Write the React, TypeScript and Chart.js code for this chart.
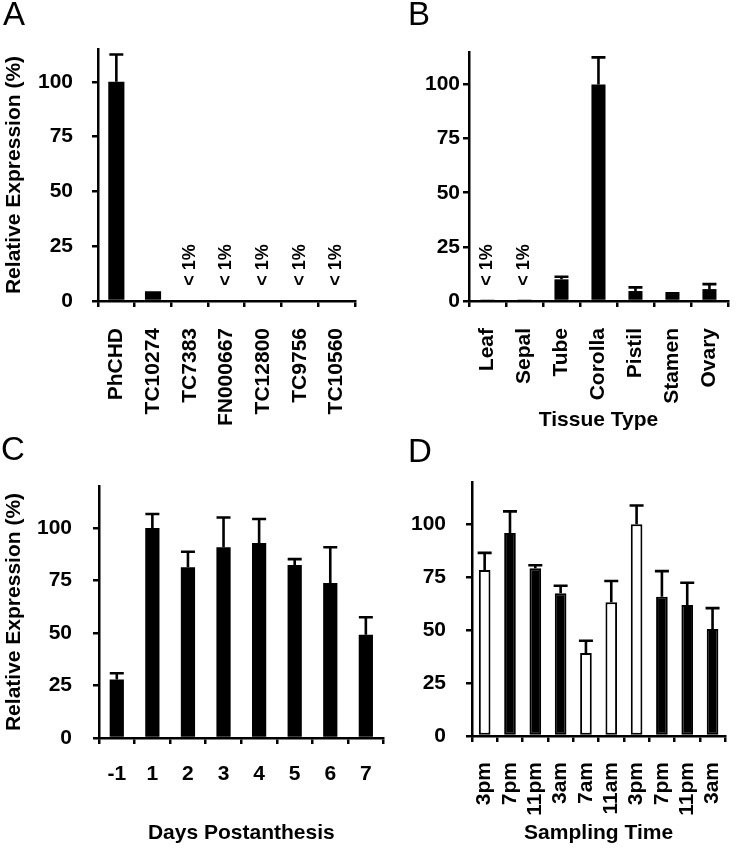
import React, { useEffect, useRef } from 'react';
import { Chart, registerables } from 'chart.js';

Chart.register(...registerables);

const FONT = '"Liberation Sans", Arial, Helvetica, sans-serif';

// ---------- Data ----------
const categoriesA = ['PhCHD', 'TC10274', 'TC7383', 'FN000667', 'TC12800', 'TC9756', 'TC10560'];
const valuesA = [100, 4.5, 0, 0, 0, 0.6, 0];
const errorsA = [12.5, 0, 0, 0, 0, 0, 0];
const notesA = ['', '', '< 1%', '< 1%', '< 1%', '< 1%', '< 1%'];

const categoriesB = ['Leaf', 'Sepal', 'Tube', 'Corolla', 'Pistil', 'Stamen', 'Ovary'];
const valuesB = [0.4, 0.7, 10, 100, 4.6, 3.2, 5.5];
const errorsB = [0, 0, 1.2, 12.5, 1.7, 0.4, 2.3];
const notesB = ['< 1%', '< 1%', '', '', '', '', ''];

const categoriesC = ['-1', '1', '2', '3', '4', '5', '6', '7'];
const valuesC = [27.8, 100, 81.3, 90.8, 92.9, 82.4, 73.8, 49.2];
const errorsC = [3, 6.7, 7.4, 14.2, 11.4, 2.8, 17, 8.3];

const categoriesD = ['3pm', '7pm', '11pm', '3am', '7am', '11am', '3pm', '7pm', '11pm', '3am'];
const valuesD = [78.4, 95.9, 79.2, 67.4, 39.2, 63.2, 100, 65.8, 61.9, 50.5];
const errorsD = [8.1, 10.2, 1.5, 3.6, 5.8, 10, 8.9, 12.1, 10.5, 9.9];
const lightPhaseD = [true, false, false, false, true, true, true, false, false, false];

const yTicks = [0, 25, 50, 75, 100];
const NOTE_BASE = 7;

type Spec = {
  left: number; top: number; width: number; height: number;
  yW: number; xH: number; padTop: number;
  yMax: number; yPad: number; xPad: number; rot: number;
  labels: string[]; values: number[]; errors: number[]; notes?: string[];
  colors: string[]; borderWidth: number; barPct: number;
  yTitle?: string; xTitle?: string;
};

function buildConfig(s: Spec): any {
  const font = { family: FONT, size: 21, weight: 'bold' as const };
  const errorPlugin = {
    id: 'errBars',
    afterDatasetsDraw(chart: any) {
      const ctx = chart.ctx;
      const y = chart.scales.y;
      const meta = chart.getDatasetMeta(0);
      ctx.save();
      ctx.strokeStyle = '#000';
      ctx.lineWidth = 2.6;
      ctx.lineCap = 'butt';
      s.errors.forEach((e, i) => {
        if (!e) return;
        const x = meta.data[i].x;
        const y0 = y.getPixelForValue(s.values[i]);
        const y1 = y.getPixelForValue(s.values[i] + e);
        ctx.beginPath();
        ctx.moveTo(x, y0);
        ctx.lineTo(x, y1);
        ctx.moveTo(x - 7, y1);
        ctx.lineTo(x + 7, y1);
        ctx.stroke();
      });
      if (s.notes) {
        ctx.fillStyle = '#000';
        ctx.font = `bold 18px ${FONT}`;
        ctx.textAlign = 'left';
        ctx.textBaseline = 'middle';
        s.notes.forEach((t, i) => {
          if (!t) return;
          const x = meta.data[i].x;
          ctx.save();
          ctx.translate(x, y.getPixelForValue(NOTE_BASE));
          ctx.rotate(-Math.PI / 2);
          ctx.fillText(t, 0, 0);
          ctx.restore();
        });
      }
      ctx.restore();
    },
  };
  return {
    type: 'bar',
    data: {
      labels: s.labels,
      datasets: [{
        data: s.values,
        backgroundColor: s.colors,
        borderColor: '#000',
        borderWidth: s.borderWidth,
        borderSkipped: false,
        barPercentage: s.barPct,
        categoryPercentage: 1,
      }],
    },
    options: {
      responsive: false,
      animation: false,
      devicePixelRatio: 1,
      events: [],
      layout: { padding: { top: s.padTop, right: 5, left: 0, bottom: 0 } },
      plugins: { legend: { display: false }, tooltip: { enabled: false }, title: { display: false } },
      scales: {
        x: {
          type: 'category',
          offset: true,
          z: 1,
          grid: { display: true, drawOnChartArea: false, drawTicks: true, tickLength: 6, lineWidth: 2.5, tickColor: '#000', color: '#000', offset: true },
          border: { display: true, color: '#000', width: 2.5 },
          ticks: { color: '#000', font, minRotation: s.rot, maxRotation: s.rot, autoSkip: false, padding: s.xPad },
          title: { display: !!s.xTitle, text: s.xTitle || '', color: '#000', font, padding: { top: 2, bottom: 2 } },
          afterFit: (sc: any) => { sc.height = s.xH; },
        },
        y: {
          min: 0,
          max: s.yMax,
          z: 1,
          grid: { display: true, drawOnChartArea: false, drawTicks: true, tickLength: 6, lineWidth: 2.5, tickColor: '#000', color: '#000' },
          border: { display: true, color: '#000', width: 2.5 },
          ticks: { color: '#000', font, stepSize: 25, padding: s.yPad },
          afterBuildTicks: (sc: any) => { sc.ticks = yTicks.map((v) => ({ value: v })); },
          title: { display: !!s.yTitle, text: s.yTitle || '', color: '#000', font, padding: { top: 2, bottom: 2 } },
          afterFit: (sc: any) => { sc.width = s.yW; },
        },
      },
    },
    plugins: [errorPlugin],
  };
}

function Panel({ spec }: { spec: Spec }) {
  const ref = useRef<HTMLCanvasElement>(null);
  useEffect(() => {
    if (!ref.current) return;
    const chart = new Chart(ref.current, buildConfig(spec));
    return () => chart.destroy();
  }, []);
  return (
    <canvas
      ref={ref}
      width={spec.width}
      height={spec.height}
      style={{ position: 'absolute', left: spec.left, top: spec.top, width: spec.width, height: spec.height }}
    />
  );
}

const black = (n: number) => Array.from({ length: n }, () => '#000');

const specA: Spec = {
  left: 0, top: 0, width: 383, height: 430, yW: 98, xH: 129, padTop: 49,
  yMax: 115, yPad: 19, xPad: 21, rot: 90,
  labels: categoriesA, values: valuesA, errors: errorsA, notes: notesA,
  colors: black(categoriesA.length), borderWidth: 0, barPct: 0.44,
  yTitle: 'Relative Expression (%)',
};
const specB: Spec = {
  left: 378, top: 0, width: 378, height: 435, yW: 91, xH: 134, padTop: 52,
  yMax: 115, yPad: 3, xPad: 21, rot: 90,
  labels: categoriesB, values: valuesB, errors: errorsB, notes: notesB,
  colors: black(categoriesB.length), borderWidth: 0, barPct: 0.38,
  xTitle: 'Tissue Type',
};
const specC: Spec = {
  left: 0, top: 424, width: 390, height: 424, yW: 99, xH: 110, padTop: 62,
  yMax: 120, yPad: 21, xPad: 18, rot: 0,
  labels: categoriesC, values: valuesC, errors: errorsC,
  colors: black(categoriesC.length), borderWidth: 0, barPct: 0.4,
  yTitle: 'Relative Expression (%)', xTitle: 'Days Postanthesis',
};
const specD: Spec = {
  left: 378, top: 424, width: 380, height: 424, yW: 94, xH: 112, padTop: 58,
  yMax: 120, yPad: 20, xPad: 20, rot: 90,
  labels: categoriesD, values: valuesD, errors: errorsD,
  colors: lightPhaseD.map((l) => (l ? '#fff' : '#000')), borderWidth: 2, barPct: 0.46,
  xTitle: 'Sampling Time',
};

const letterStyle = (left: number, top: number): React.CSSProperties => ({
  position: 'absolute', left, top, fontFamily: FONT, fontSize: 33, lineHeight: 1, color: '#000',
});

export default function App() {
  return (
    <div style={{ position: 'absolute', left: 0, top: 0, width: 756, height: 848, overflow: 'hidden', background: '#fff' }}>
      <Panel spec={specA} />
      <Panel spec={specB} />
      <Panel spec={specC} />
      <Panel spec={specD} />
      <div style={letterStyle(3, -3)}>A</div>
      <div style={letterStyle(408, -3)}>B</div>
      <div style={letterStyle(1, 432)}>C</div>
      <div style={letterStyle(408, 434)}>D</div>
    </div>
  );
}
